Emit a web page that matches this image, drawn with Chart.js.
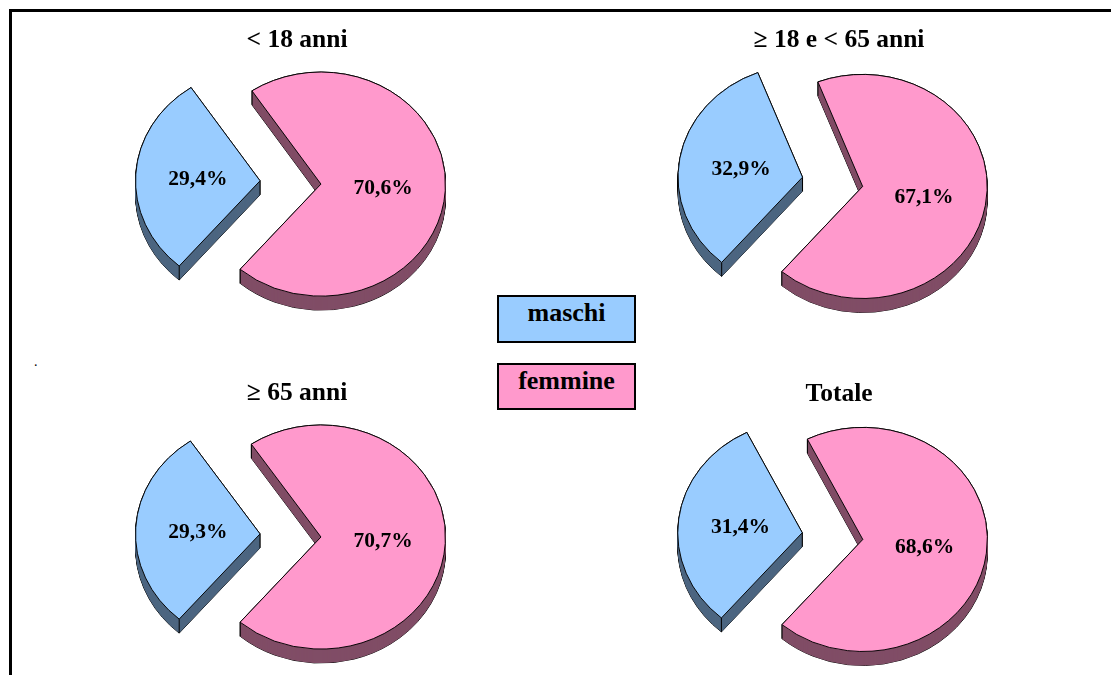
<!DOCTYPE html>
<html lang="it">
<head>
<meta charset="utf-8">
<title>Maschi e femmine per classe di età</title>
<script src="https://cdn.jsdelivr.net/npm/chart.js@4/dist/chart.umd.js"></script>
<style>
    html, body { margin: 0; padding: 0; background: #fff; overflow: hidden; width: 1111px; height: 675px; }
    body { position: relative; font-family: "Liberation Serif", serif; font-weight: bold; color: #000; }
    #frame { position: absolute; left: 9px; top: 9px; width: 1300px; height: 900px; border-left: 3px solid #000; border-top: 3px solid #000; }
    canvas { position: absolute; }
    .key { position: absolute; left: 497px; width: 135px; border: 2px solid #000; font-size: 26px; line-height: 32px; text-align: center; }
    .dot { position: absolute; left: 34px; top: 354px; font-size: 14px; font-weight: normal; }
</style>
</head>
<body>
<div id="frame"></div>
<div class="dot">.</div>
<canvas id="pie0" width="330" height="324" style="left:132px;top:6px"></canvas>
<canvas id="pie1" width="330" height="324" style="left:674px;top:6px"></canvas>
<canvas id="pie2" width="330" height="324" style="left:132px;top:359px"></canvas>
<canvas id="pie3" width="330" height="324" style="left:674px;top:360px"></canvas>
<div class="key" style="top:295px;height:44px;background:#99ccff">maschi</div>
<div class="key" style="top:363px;height:43px;background:#ff99cc">femmine</div>

<script>
// Chart data
const categories = ['maschi', 'femmine'];
const panelTitles = ['< 18 anni', '≥ 18 e < 65 anni', '≥ 65 anni', 'Totale'];
const maschiValues = [29.4, 32.9, 29.3, 31.4];
const femmineValues = [70.6, 67.1, 70.7, 68.6];

const sliceColors = ['#99ccff', '#ff99cc'];
const sideColors = ['#4d6680', '#804d66'];
const explode = [37, 24];
const squash = 0.9;
const depth = 14;

function formatPercent(value) {
    return value.toFixed(1).replace('.', ',') + '%';
}

// Path of one slice in the squashed plane, lowered by "drop" pixels
function slicePath(ctx, arc, explodeBy, drop) {
    const mid = (arc.startAngle + arc.endAngle) / 2;
    ctx.save();
    ctx.translate(arc.x, arc.y + drop);
    ctx.scale(1, squash);
    const ox = Math.cos(mid) * explodeBy;
    const oy = Math.sin(mid) * explodeBy;
    ctx.beginPath();
    ctx.moveTo(ox, oy);
    ctx.arc(ox, oy, arc.outerRadius, arc.startAngle, arc.endAngle);
    ctx.closePath();
    ctx.restore();
}

// Draws the slices as a tilted, exploded pie with a side wall and value labels
const tiltedPie = {
    id: 'tiltedPie',
    beforeDatasetDraw(chart, args) {
        const ctx = chart.ctx;
        const arcs = args.meta.data;

        arcs.forEach(function(arc, i) {
            ctx.lineWidth = 1;
            ctx.strokeStyle = '#000';
            for (let d = depth; d >= 0; d--) {
                slicePath(ctx, arc, explode[i], d);
                ctx.stroke();
            }
            ctx.fillStyle = sideColors[i];
            for (let d = depth; d >= 0; d--) {
                slicePath(ctx, arc, explode[i], d);
                ctx.fill();
            }
            // Vertical edges of the wall
            const mid = (arc.startAngle + arc.endAngle) / 2;
            const ox = Math.cos(mid) * explode[i];
            const oy = Math.sin(mid) * explode[i];
            const corners = [
                [ox, oy],
                [ox + Math.cos(arc.startAngle) * arc.outerRadius, oy + Math.sin(arc.startAngle) * arc.outerRadius],
                [ox + Math.cos(arc.endAngle) * arc.outerRadius, oy + Math.sin(arc.endAngle) * arc.outerRadius]
            ];
            corners.forEach(function(c) {
                ctx.beginPath();
                ctx.moveTo(arc.x + c[0], arc.y + c[1] * squash);
                ctx.lineTo(arc.x + c[0], arc.y + c[1] * squash + depth);
                ctx.stroke();
            });
        });

        // Top faces, drawn by the arc elements themselves
        arcs.forEach(function(arc, i) {
            const mid = (arc.startAngle + arc.endAngle) / 2;
            ctx.save();
            ctx.translate(arc.x + Math.cos(mid) * explode[i], arc.y + Math.sin(mid) * explode[i] * squash);
            ctx.scale(1, squash);
            ctx.translate(-arc.x, -arc.y);
            arc.draw(ctx);
            ctx.restore();
        });

        // Value labels
        const values = chart.data.datasets[0].data;
        ctx.fillStyle = '#000';
        ctx.font = 'bold 21.5px "Liberation Serif", serif';
        ctx.textAlign = 'center';
        ctx.textBaseline = 'middle';
        arcs.forEach(function(arc, i) {
            const mid = (arc.startAngle + arc.endAngle) / 2;
            const r = explode[i] + arc.outerRadius / 2;
            ctx.fillText(formatPercent(values[i]), arc.x + Math.cos(mid) * r, arc.y + Math.sin(mid) * r * squash + 1.5);
        });
        return false;
    }
};

panelTitles.forEach(function(title, p) {
    new Chart(document.getElementById('pie' + p), {
        type: 'pie',
        data: {
            labels: categories,
            datasets: [{
                data: [maschiValues[p], femmineValues[p]],
                backgroundColor: sliceColors,
                borderColor: '#000',
                borderWidth: 1,
                clip: false
            }]
        },
        options: {
            responsive: false,
            animation: false,
            rotation: 220.5,
            radius: 124.5,
            layout: { padding: { bottom: 20 } },
            plugins: {
                legend: { display: false },
                tooltip: { enabled: false },
                title: {
                    display: true,
                    text: title,
                    color: '#000',
                    font: { family: '"Liberation Serif", serif', size: 25.5, weight: 'bold' },
                    padding: { top: 19, bottom: 0 }
                }
            }
        },
        plugins: [tiltedPie]
    });
});
</script>
</body>
</html>
